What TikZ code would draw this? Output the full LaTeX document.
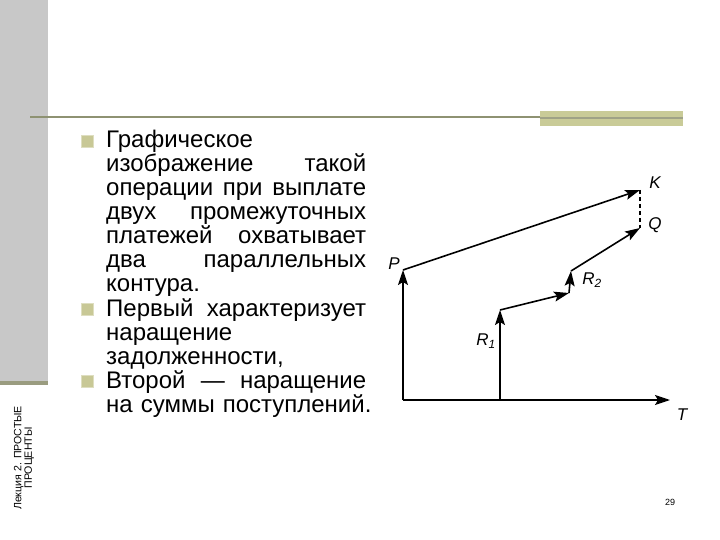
\documentclass[tikz,border=0pt]{standalone}
\usepackage{fontspec}
\setmainfont{Liberation Sans}
\usetikzlibrary{arrows.meta}
\definecolor{barGrey}{RGB}{200,200,200}
\definecolor{barBand}{RGB}{154,156,128}
\definecolor{headLine}{RGB}{142,146,114}
\definecolor{headBox}{RGB}{201,203,152}
\definecolor{bulletFill}{RGB}{200,200,150}
\newcommand{\fullline}[1]{\leavevmode\hbox to 260pt{\spaceskip=0.28em plus 1fil\relax#1}}
\begin{document}
\begin{tikzpicture}[x=1pt,y=-1pt,
    txt/.style={anchor=base west,inner sep=0pt,text width=290pt,align=left,
      font=\fontsize{24pt}{24pt}\selectfont},
    bullet/.style={fill=bulletFill,draw=bulletFill!60,inner sep=0pt,minimum size=12pt},
    lbl/.style={inner sep=0pt,font=\fontsize{17pt}{17pt}\selectfont\itshape},
    arr/.style={line width=1.6pt,-{Stealth[length=15pt,width=10pt,inset=3pt]}}]
  \useasboundingbox (0,0) rectangle (720,540);
  \fill[barGrey] (0,0) rectangle (48,381);
  \fill[barBand] (0,381) rectangle (48,385);
  \draw[headLine,line width=2.5pt] (30,117) -- (540,117);
  \fill[headBox] (540,111) rectangle (683,126);
  \draw[headLine!85,line width=2pt] (540,118) -- (683,118);
  \node[rotate=90,align=center,inner sep=0pt,font=\fontsize{10.6pt}{10.5pt}\selectfont]
    (title) at (24,458) {Лекция 2. ПРОСТЫЕ\\ПРОЦЕНТЫ};
  \node[inner sep=0pt,font=\fontsize{9pt}{9pt}\selectfont] (page) at (670,502) {29};
  \node[bullet] (b1) at (87,141) {};
  \node[bullet] (b2) at (87,309) {};
  \node[bullet] (b3) at (87,381) {};
  \node[txt] (item1) at (106,148) {Графическое\\
    \fullline{изображение такой}\\
    \fullline{операции при выплате}\\
    \fullline{двух промежуточных}\\
    \fullline{платежей охватывает}\\
    \fullline{два параллельных}\\
    контура.};
  \node[txt] (item2) at (106,316) {\fullline{Первый характеризует}\\
    наращение\\
    задолженности,};
  \node[txt] (item3) at (106,388) {\fullline{Второй — наращение}\\
    на суммы поступлений.};
  \path
    (403,400) coordinate (o)
    (500,400) coordinate (r0)
    (670,400) coordinate (t)
    (403,270) coordinate (p)
    (640,190) coordinate (k)
    (640,228) coordinate (q)
    (500,310) coordinate (r1)
    (569,293) coordinate (r2a)
    (571,271) coordinate (r2);
  \node[lbl] (pl) at (394,264) {P};
  \node[lbl] (kl) at (655,183) {K};
  \node[lbl] (ql) at (655,225) {Q};
  \node[lbl] (r1l) at (486,341) {R\textsubscript{1}};
  \node[lbl] (r2l) at (592,280) {R\textsubscript{2}};
  \node[lbl] (tl) at (682,415) {T};
  \begin{scope}[arr]
    \draw (o) to (t);
    \draw (o) to (p);
    \draw (p) to (k);
    \draw (r0) to (r1);
    \draw (r1) to (r2a);
    \draw (r2a) to (r2);
    \draw (r2) to (q);
  \end{scope}
  \draw[line width=1.2pt,dash pattern=on 4pt off 3pt] (k) -- (q);
\end{tikzpicture}
\end{document}
